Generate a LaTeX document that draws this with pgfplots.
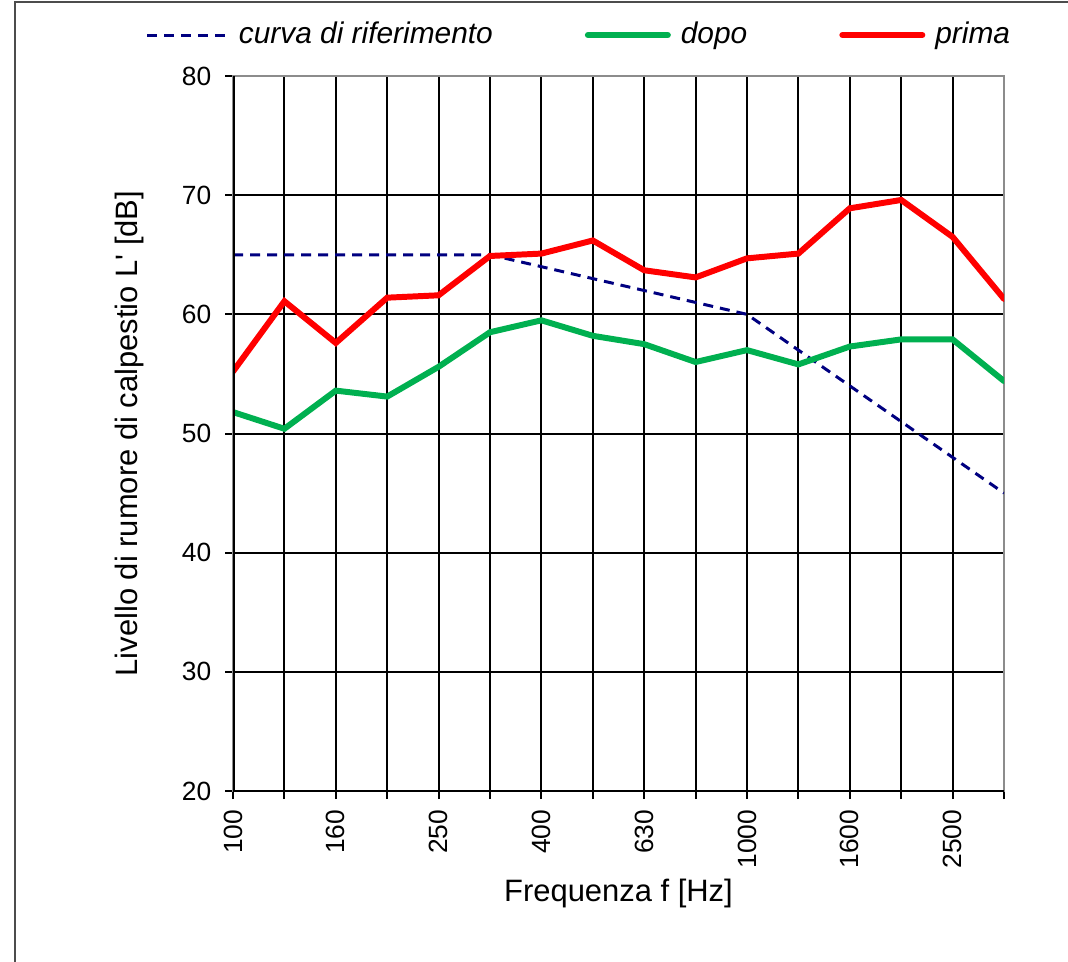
\documentclass[border=0pt]{standalone}
\usepackage{fontspec}
\setmainfont{Liberation Sans}
\usepackage{pgfplots}
\pgfplotsset{compat=1.18}
\definecolor{refblue}{RGB}{0,0,128}
\definecolor{dopogreen}{RGB}{0,176,80}
\begin{document}
\begin{tikzpicture}
\useasboundingbox (0,0) rectangle (10.68cm,-9.61cm);
\draw[line width=0.22mm, black!70] (0.15cm,-9.7cm) -- (0.15cm,-0.02cm) -- (10.8cm,-0.02cm);
\begin{axis}[
  at={(2.33cm,-7.91cm)}, anchor=south west,
  scale only axis, width=7.71cm, height=7.15cm,
  xmin=0, xmax=15, ymin=20, ymax=80,
  xtick={0,...,15},
  xticklabels={100,,160,,250,,400,,630,,1000,,1600,,2500,},
  ytick={20,30,...,80},
  /pgf/number format/assume math mode=true,
  xtick pos=left, ytick pos=left,
  tick align=outside,
  major tick length=0.8mm,
  tick style={black, line width=0.2mm},
  grid=major,
  major grid style={black, line width=0.2mm},
  axis line style={black!45, line width=0.25mm},
  tick label style={font=\fontsize{7.5}{8}\selectfont, text=black},
  x tick label style={rotate=90, anchor=east, inner sep=1.0mm},
  y tick label style={inner sep=1.3mm},
  xlabel={Frequenza f [Hz]},
  ylabel={Livello di rumore di calpestio L\textquotesingle\ [dB]},
  label style={font=\fontsize{8.8}{10}\selectfont},
  xlabel style={at={(axis description cs:0.5,-0.1427)}, anchor=center},
  ylabel style={at={(axis description cs:-0.1336,0.5)}, anchor=center},
  legend columns=3,
  legend style={draw=none, fill=none, inner sep=0pt,
    at={(axis description cs:-0.114,1.0573)}, anchor=west,
    font=\fontsize{8.5}{10}\selectfont\itshape,
    /tikz/every even column/.append style={column sep=8.5mm}},
  legend image code/.code={\draw[#1] (0mm,0mm) -- (8mm,0mm); \path (8.3mm,0mm);},
]
\addplot[refblue, line width=0.85pt, dash pattern=on 1mm off 0.7mm] coordinates {
(0,65) (1,65) (2,65) (3,65) (4,65) (5,65) (6,64) (7,63) (8,62) (9,61) (10,60) (11,57) (12,54) (13,51) (14,48) (15,45)};
\addlegendentry{curva di riferimento}
\addplot[dopogreen, line width=1.7pt, line cap=round] coordinates {
(0,51.8) (1,50.4) (2,53.6) (3,53.1) (4,55.6) (5,58.5) (6,59.5) (7,58.2) (8,57.5) (9,56.0) (10,57.0) (11,55.8) (12,57.3) (13,57.9) (14,57.9) (15,54.4)};
\addlegendentry{dopo}
\addplot[red, line width=1.7pt, line cap=round] coordinates {
(0,55.2) (1,61.1) (2,57.6) (3,61.4) (4,61.6) (5,64.9) (6,65.1) (7,66.2) (8,63.7) (9,63.1) (10,64.7) (11,65.1) (12,68.9) (13,69.6) (14,66.5) (15,61.3)};
\addlegendentry{prima}
\draw[black, line width=0.3mm] (rel axis cs:0,1) -- (rel axis cs:0,0) -- (rel axis cs:1,0);
\end{axis}
\end{tikzpicture}
\end{document}
